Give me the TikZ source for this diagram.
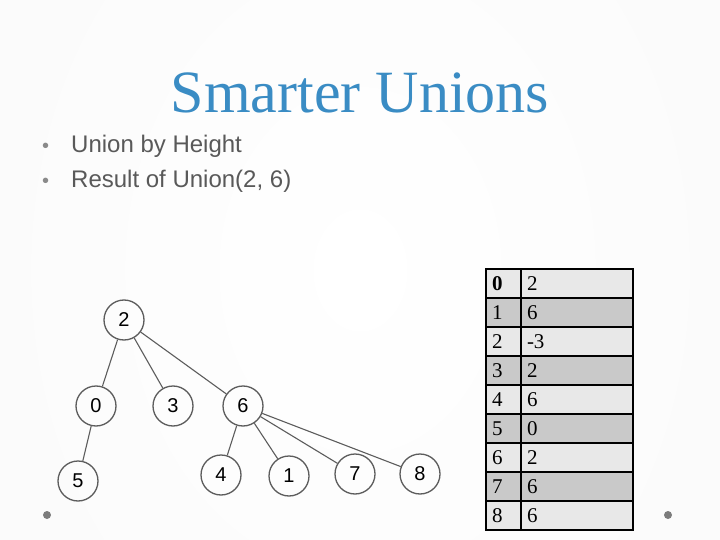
\documentclass[tikz,border=0pt]{standalone}
\usepackage{fontspec}
\setmainfont{Liberation Serif}
\setsansfont{Liberation Sans}
\usepackage{xcolor}
\usepackage{tikz}
\definecolor{title}{HTML}{3A8CC4}
\definecolor{body}{HTML}{595959}
\definecolor{bullet}{HTML}{8A8A8A}
\definecolor{edge}{HTML}{5C5C5C}
\definecolor{rowlight}{HTML}{E8E8E8}
\definecolor{rowdark}{HTML}{C9C9C9}
\pgfdeclareradialshading{slidebg}{\pgfpoint{0bp}{0bp}}{color(0bp)=(white); color(30bp)=(black!2); color(70bp)=(black!12); color(100bp)=(black!19)}
\tikzset{
  head/.style={text=title, font=\fontsize{60}{72}\selectfont, inner sep=0pt},
  item/.style={text=body, font=\sffamily\fontsize{24}{28}\selectfont, inner sep=0pt},
  dotitem/.style={text=bullet, font=\sffamily\fontsize{20}{24}\selectfont, inner sep=0pt},
  vtx/.style={circle, draw=edge, line width=1.3pt, minimum size=40pt, inner sep=0pt,
    font=\sffamily\fontsize{20}{22}\selectfont},
  link/.style={draw=edge, line width=1.1pt},
  cell/.style={draw=black, line width=1.6pt, minimum height=29pt, inner xsep=6pt, inner ysep=0pt,
    outer sep=0pt, anchor=north west, font=\fontsize{21}{24}\selectfont}
}

\begin{document}
\begin{tikzpicture}[x=1pt,y=-1pt]
% slide background
\useasboundingbox (0,0) rectangle (720,540);
\clip (0,0) rectangle (720,540);
\shade[shading=slidebg] (-40,-250) rectangle (760,790);

% title and bullets
\node[head, anchor=base] (ttl) at (360,113) {Smarter Unions};
\node[dotitem, anchor=base west] (b1) at (42,153) {•};
\node[item, anchor=base west] (t1) at (71,153) {Union by Height};
\node[dotitem, anchor=base west] (b2) at (42,188) {•};
\node[item, anchor=base west] (t2) at (71,188) {Result of Union(2, 6)};

% tree after the union
\node[vtx] (n2) at (124,320) {2};
\node[vtx] (n0) at (96,406) {0};
\node[vtx] (n3) at (173,406) {3};
\node[vtx] (n6) at (243,406) {6};
\node[vtx] (n5) at (78,481) {5};
\node[vtx] (n4) at (221,475) {4};
\node[vtx] (n1) at (289,476) {1};
\node[vtx] (n7) at (355,474) {7};
\node[vtx] (n8) at (420,474) {8};
\draw[link] (n2)--(n0);
\draw[link] (n2)--(n3);
\draw[link] (n2)--(n6);
\draw[link] (n0)--(n5);
\draw[link] (n6)--(n4);
\draw[link] (n6)--(n1);
\draw[link] (n6)--(n7);
\draw[link] (n6)--(n8);

% parent array
\foreach \k/\v/\c [count=\i from 0] in {\textbf{0}/2/rowlight, 1/6/rowdark, 2/-3/rowlight,
    3/2/rowdark, 4/6/rowlight, 5/0/rowdark, 6/2/rowlight, 7/6/rowdark, 8/6/rowlight} {
  \node[cell, fill=\c, text width=23pt] (k\i) at (486,{269+29*\i}) {\k};
  \node[cell, fill=\c, text width=100pt] (v\i) at (k\i.north east) {\v};
}

% slide corner dots
\fill[bullet!90!black] (47,515) circle (4);
\fill[bullet!90!black] (668,515) circle (4);
\end{tikzpicture}
\end{document}
